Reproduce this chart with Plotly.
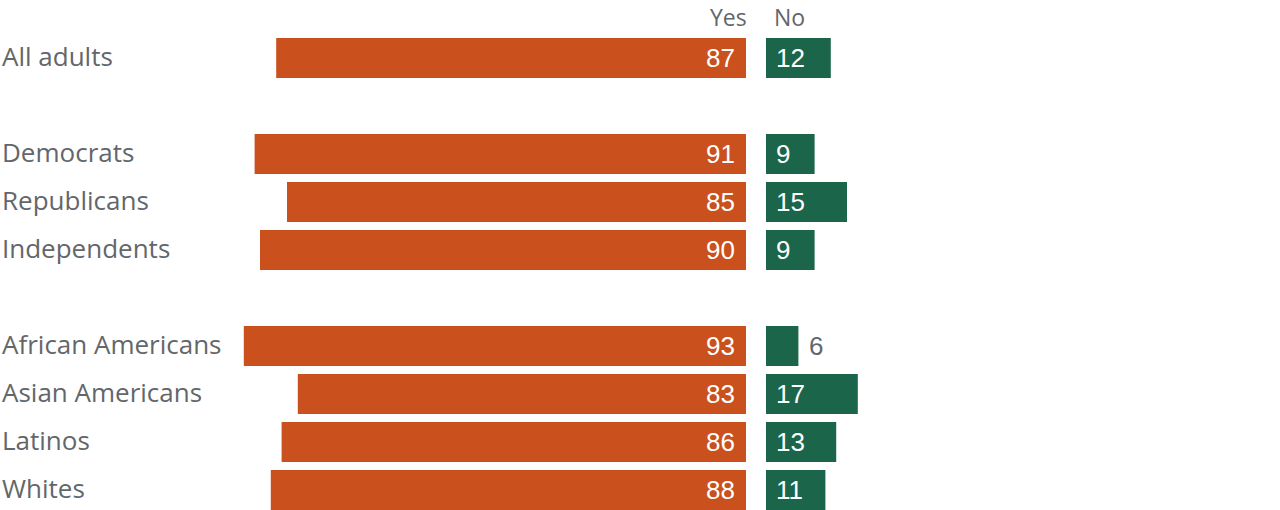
import plotly.graph_objects as go

groups = [
    ["All adults"],
    ["Democrats", "Republicans", "Independents"],
    ["African Americans", "Asian Americans", "Latinos", "Whites"],
]
yes_values = [87, 91, 85, 90, 93, 83, 86, 88]
no_values = [12, 9, 15, 9, 6, 17, 13, 11]
header_yes = "Yes"
header_no = "No"

ORANGE = "#CA501D"
GREEN = "#1B654B"
GREY = "#63666A"
FONT = "Open Sans"
NUM_FONT = "Liberation Sans"

W, H = 1280, 510
PX_PER_UNIT = 5.4
YES_END = 746
NO_START = 766
ROW0 = 58
ROW_STEP = 48
BAR_H = 40

categories, positions = [], []
pos = 0
for g in groups:
    for c in g:
        categories.append(c)
        positions.append(pos)
        pos += 1
    pos += 1

fig = go.Figure()
fig.add_trace(go.Bar(x=yes_values, y=positions, orientation="h", marker_color=ORANGE,
                     marker_line_width=0, width=BAR_H / ROW_STEP, xaxis="x", yaxis="y",
                     hoverinfo="skip"))
fig.add_trace(go.Bar(x=no_values, y=positions, orientation="h", marker_color=GREEN,
                     marker_line_width=0, width=BAR_H / ROW_STEP, xaxis="x2", yaxis="y",
                     hoverinfo="skip"))

ann = []
for c, p, yv, nv in zip(categories, positions, yes_values, no_values):
    ann.append(dict(x=0, xref="paper", y=p, yref="y", text=c, showarrow=False,
                    xanchor="left", xshift=0, yshift=2, font=dict(family=FONT, size=26, color=GREY)))
    ann.append(dict(x=0, xref="x", y=p, yref="y", text=str(yv), showarrow=False,
                    xanchor="right", xshift=-9, font=dict(family=NUM_FONT, size=26, color="white")))
    if nv * PX_PER_UNIT >= 40:
        ann.append(dict(x=0, xref="x2", y=p, yref="y", text=str(nv), showarrow=False,
                        xanchor="left", xshift=8, font=dict(family=NUM_FONT, size=26, color="white")))
    else:
        ann.append(dict(x=nv, xref="x2", y=p, yref="y", text=str(nv), showarrow=False,
                        xanchor="left", xshift=9, font=dict(family=NUM_FONT, size=26, color=GREY)))

ann.append(dict(x=0, xref="x", y=1, yref="paper", yanchor="top", text=header_yes, borderpad=0,
                showarrow=False, xanchor="right", xshift=2, font=dict(family=FONT, size=23, color=GREY)))
ann.append(dict(x=0, xref="x2", y=1, yref="paper", yanchor="top", text=header_no, borderpad=0,
                showarrow=False, xanchor="left", xshift=7, font=dict(family=FONT, size=23, color=GREY)))

fig.update_layout(
    width=W, height=H,
    margin=dict(l=0, r=0, t=0, b=0),
    plot_bgcolor="white", paper_bgcolor="white",
    showlegend=False,
    barmode="overlay",
    xaxis=dict(domain=[0, YES_END / W], range=[YES_END / PX_PER_UNIT, 0], visible=False, fixedrange=True),
    xaxis2=dict(domain=[NO_START / W, 1], range=[0, (W - NO_START) / PX_PER_UNIT], visible=False,
                anchor="y", fixedrange=True),
    yaxis=dict(range=[(H - ROW0) / ROW_STEP, -ROW0 / ROW_STEP], visible=False, fixedrange=True),
    annotations=ann,
)

fig.write_html("out.html")
